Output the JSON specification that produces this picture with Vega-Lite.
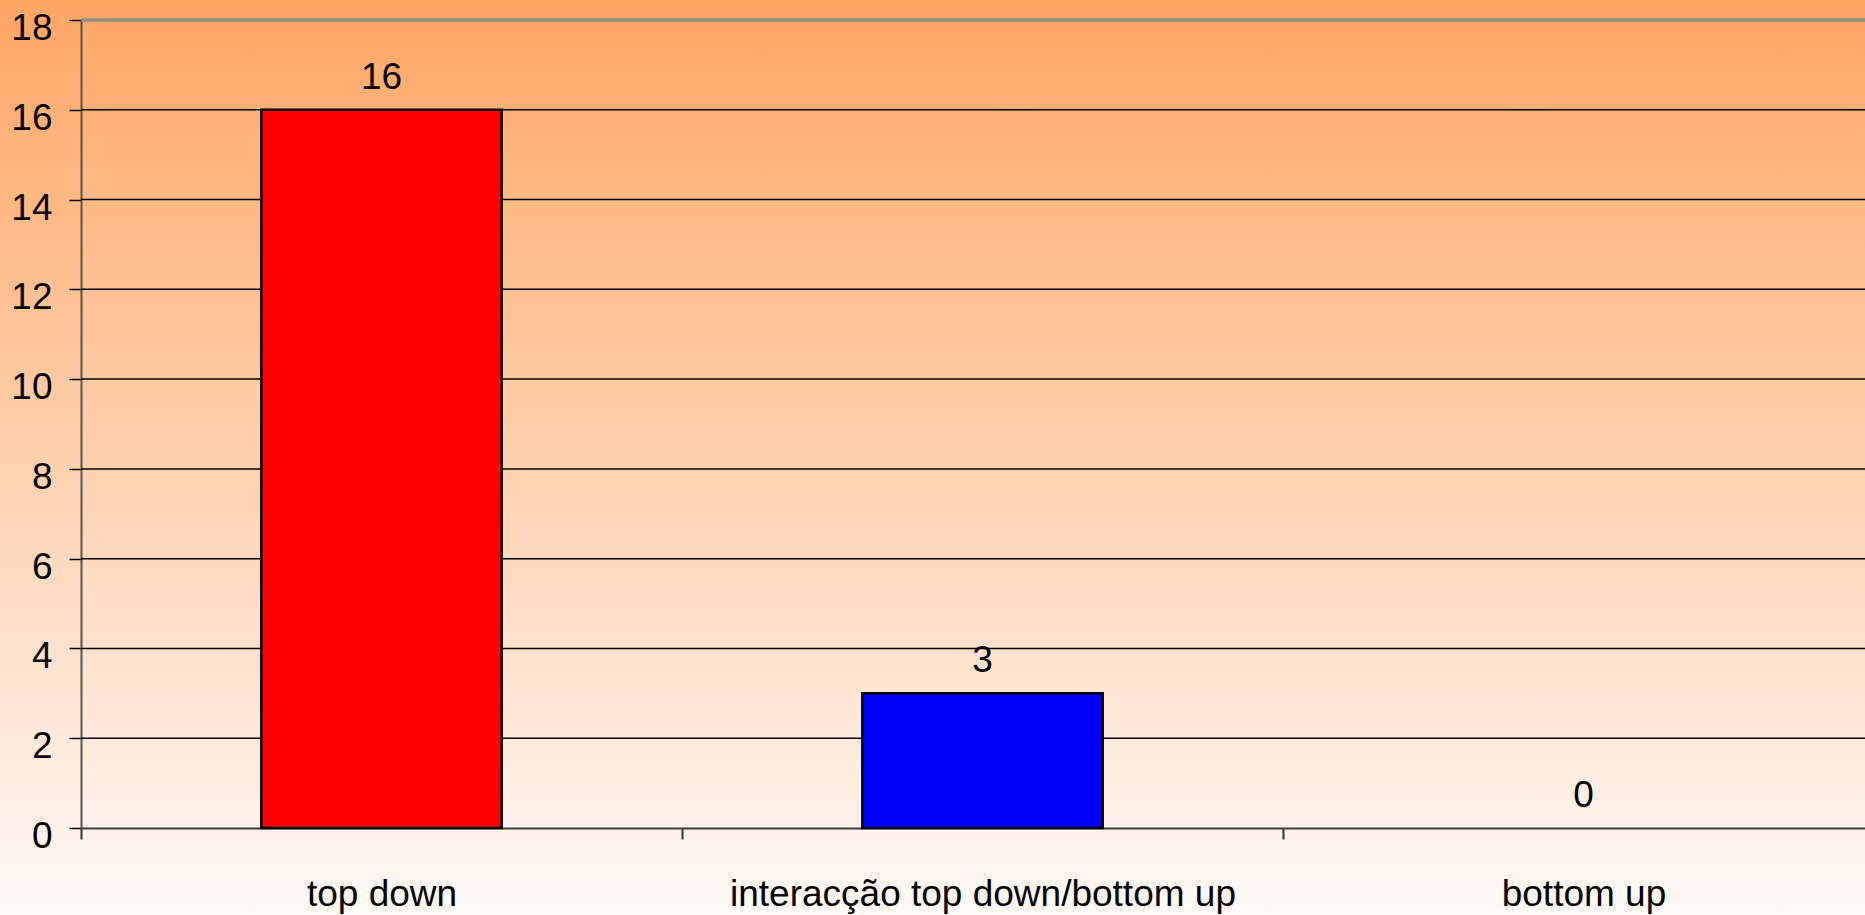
{
  "$schema": "https://vega.github.io/schema/vega-lite/v6.json",
  "width": 1865,
  "height": 915,
  "autosize": {"type": "none"},
  "padding": 0,
  "background": "#FFFAF7",
  "view": {
    "stroke": null,
    "fill": {
      "gradient": "linear",
      "x1": 0, "y1": 0, "x2": 0, "y2": 1,
      "stops": [
        {"offset": 0, "color": "#FFA664"},
        {"offset": 1, "color": "#FFFAF7"}
      ]
    }
  },
  "config": {"font": "Liberation Sans"},
  "datasets": {
    "bars": [
      {"category": "top down", "count": 16},
      {"category": "interacção top down/bottom up", "count": 3},
      {"category": "bottom up", "count": 0}
    ],
    "grid": [
      {"v": 2}, {"v": 4}, {"v": 6}, {"v": 8}, {"v": 10}, {"v": 12}, {"v": 14}, {"v": 16}
    ]
  },
  "layer": [
    {
      "data": {"name": "grid"},
      "mark": {"type": "rule", "color": "#000000", "strokeWidth": 1.5},
      "encoding": {
        "y": {"field": "v", "type": "quantitative"},
        "x": {"datum": "top down", "type": "nominal", "bandPosition": 0},
        "x2": {"value": "width"}
      }
    },
    {
      "data": {"name": "bars"},
      "mark": {"type": "bar", "stroke": "#000000", "strokeWidth": 2.5, "width": {"band": 0.4}},
      "encoding": {
        "x": {
          "field": "category",
          "type": "nominal",
          "sort": null,
          "scale": {
            "domain": ["top down", "interacção top down/bottom up", "bottom up"],
            "range": [81, 1884],
            "paddingInner": 0,
            "paddingOuter": 0
          },
          "axis": {
            "orient": "bottom",
            "offset": -87,
            "title": null,
            "domain": true,
            "domainColor": "#3c3c3c",
            "domainWidth": 2,
            "ticks": true,
            "tickBand": "extent",
            "tickSize": 11,
            "tickColor": "#333333",
            "tickWidth": 2,
            "labelAngle": 0,
            "labelAlign": "center",
            "labelFont": "Liberation Sans",
            "labelFontSize": 37,
            "labelColor": "#000000",
            "labelBaseline": "alphabetic",
            "labelPadding": 66,
            "labelLimit": 0,
            "grid": false
          }
        },
        "y": {
          "field": "count",
          "type": "quantitative",
          "scale": {"domain": [0, 18], "range": [828, 20], "nice": false, "zero": true},
          "axis": {
            "orient": "left",
            "offset": -81,
            "title": null,
            "values": [0, 2, 4, 6, 8, 10, 12, 14, 16, 18],
            "domain": true,
            "domainColor": "#555555",
            "domainWidth": 2,
            "ticks": true,
            "tickSize": 12,
            "tickColor": "#000000",
            "tickWidth": 1.5,
            "labelFont": "Liberation Sans",
            "labelFontSize": 37,
            "labelColor": "#000000",
            "labelPadding": 17,
            "labelBaseline": "alphabetic",
            "labelOffset": 19.5,
            "grid": false
          }
        },
        "color": {
          "field": "category",
          "type": "nominal",
          "scale": {
            "domain": ["top down", "interacção top down/bottom up", "bottom up"],
            "range": ["#FF0000", "#0000FF", "#FFFF99"]
          },
          "legend": null
        },
        "strokeOpacity": {"condition": {"test": "datum.count > 0", "value": 1}, "value": 0}
      }
    },
    {
      "data": {"name": "bars"},
      "mark": {"type": "text", "fontSize": 37, "font": "Liberation Sans", "baseline": "alphabetic", "align": "center", "dy": -21, "color": "#000000"},
      "encoding": {
        "x": {"field": "category", "type": "nominal", "sort": null},
        "y": {"field": "count", "type": "quantitative"},
        "text": {"field": "count", "type": "quantitative"}
      }
    },
    {
      "data": {"name": "bars"},
      "mark": {"type": "rule", "color": "#8a8a8a", "strokeWidth": 2.7},
      "encoding": {
        "y": {"datum": 18, "type": "quantitative"},
        "x": {"datum": "top down", "type": "nominal", "bandPosition": 0},
        "x2": {"value": "width"}
      }
    }
  ]
}
